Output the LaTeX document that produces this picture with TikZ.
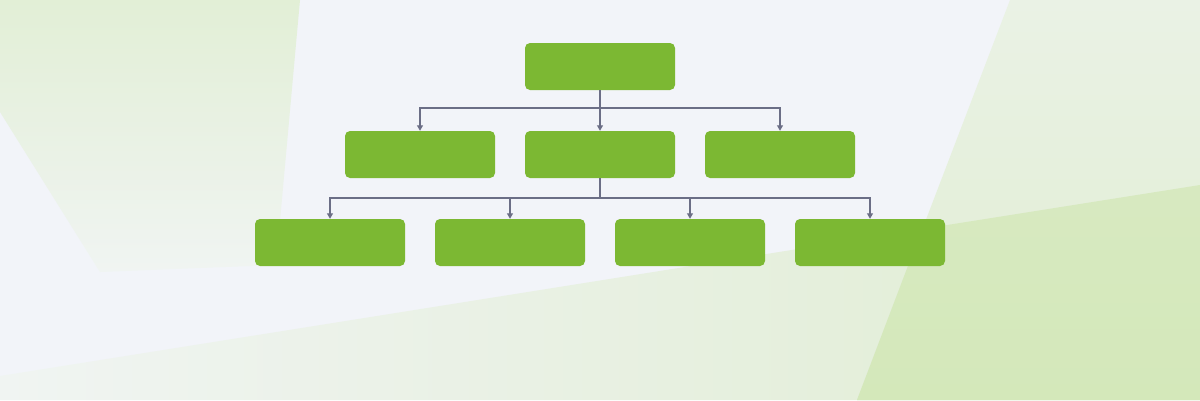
\documentclass[tikz,border=0pt]{standalone}
\usetikzlibrary{arrows.meta}
\definecolor{bgc}{HTML}{F2F4F9}
\definecolor{boxgreen}{HTML}{7CB833}
\definecolor{linec}{HTML}{6B6E86}
\definecolor{gA}{HTML}{E2EFD6}
\definecolor{gB}{HTML}{F0F4F2}
\definecolor{gC}{HTML}{E0EDD2}
\definecolor{gD}{HTML}{EAF2E5}
\definecolor{gE}{HTML}{D4E8BA}
\tikzset{
  orgbox/.style={rectangle, rounded corners=5pt, fill=boxgreen, draw=none,
    minimum width=150pt, minimum height=47pt, inner sep=0pt},
  link/.style={draw=linec, line width=1.1pt},
  arr/.style={link, -{Triangle[length=5.5pt,width=6pt]}}
}
\begin{document}
\begin{tikzpicture}[x=1pt,y=-1pt]
\useasboundingbox (0,0) rectangle (1200,400);
% background
\fill[bgc] (0,0) rectangle (1200,400);
\shade[top color=gA, bottom color=gB] (0,0) -- (300,0) -- (276,265) -- (100,272) -- (0,112) -- cycle;
\shade[left color=gB, right color=gC] (0,376) -- (1200,185) -- (1200,400) -- (0,400) -- cycle;
\shade[top color=gD, bottom color=gC] (1010,0) -- (1200,0) -- (1200,400) -- (857,400) -- cycle;
\shade[top color=gE!85!gD, bottom color=gE] (922,229) -- (1200,185) -- (1200,400) -- (857,400) -- cycle;
% nodes
\node[orgbox] (top) at (600,66.5) {};
\node[orgbox] (l2a) at (420,154.5) {};
\node[orgbox] (l2b) at (600,154.5) {};
\node[orgbox] (l2c) at (780,154.5) {};
\node[orgbox] (l3a) at (330,242.5) {};
\node[orgbox] (l3b) at (510,242.5) {};
\node[orgbox] (l3c) at (690,242.5) {};
\node[orgbox] (l3d) at (870,242.5) {};
% connectors
\coordinate (j1) at (600,108);
\coordinate (j2) at (600,198);
\draw[link] (top.south) -- (j1);
\draw[arr] (j1) -| (l2a.north);
\draw[arr] (j1) -- (l2b.north);
\draw[arr] (j1) -| (l2c.north);
\draw[link] (l2b.south) -- (j2);
\draw[arr] (j2) -| (l3a.north);
\draw[arr] (j2) -| (l3b.north);
\draw[arr] (j2) -| (l3c.north);
\draw[arr] (j2) -| (l3d.north);
\end{tikzpicture}
\end{document}
